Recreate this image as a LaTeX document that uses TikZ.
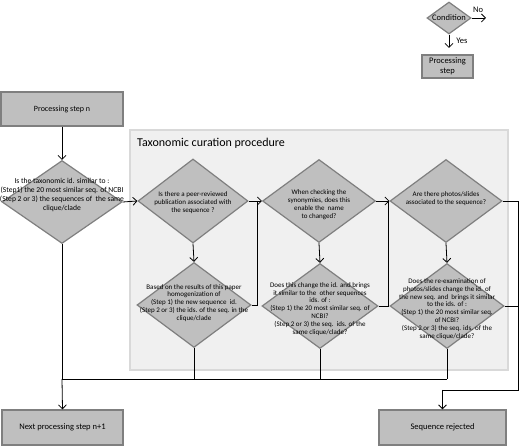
\documentclass[tikz,border=0pt]{standalone}
\usepackage{fontspec}
\setmainfont{Carlito}
\usetikzlibrary{shapes.geometric,arrows.meta}
\definecolor{fgray}{HTML}{BFBFBF}
\definecolor{dgray}{HTML}{7F7F7F}
\definecolor{boxbg}{HTML}{F0F0F0}
\definecolor{boxln}{HTML}{D9D9D9}
\begin{document}
\begin{tikzpicture}[x=1pt,y=-1pt,
  dia/.style={diamond, draw=dgray, fill=fgray, line width=1.2pt, inner sep=0pt},
  procbox/.style={rectangle, draw=dgray, fill=fgray, line width=1.3pt, inner sep=0pt, font=\fontsize{8.5}{9.5}\selectfont, align=center},
  dtext/.style={align=center, inner sep=0pt, font=\fontsize{7}{7.9}\selectfont},
  lab/.style={inner sep=0pt, font=\fontsize{8.5}{9.5}\selectfont},
  conn/.style={line width=0.8pt, black},
  arr/.style={conn, -{Straight Barb[length=4pt,width=8pt]}}
]
\useasboundingbox (0,0) rectangle (520,446);
% curation area
\node[draw=boxln, fill=boxbg, line width=1.6pt, minimum width=378pt, minimum height=240pt, inner sep=0pt] (area) at (319,250) {};
\node[anchor=west, inner sep=0pt, font=\fontsize{12}{14}\selectfont] (title) at (137,143) {Taxonomic curation procedure};

% legend
\node[dia, minimum width=44pt, minimum height=32pt] (cond) at (449,18) {};
\node[lab, font=\fontsize{8.5}{9.5}\selectfont] (condt) at (449,18) {Condition};
\coordinate (noend) at (486,18);
\draw[arr] (cond.east) -- (noend);
\node[lab] (nolab) at (478,10) {No};
\node[procbox, minimum width=51pt, minimum height=23pt] (legbox) at (447.5,66.5) {Processing\\step};
\coordinate (yesend) at (449,48);
\draw[arr] (cond.south) -- (yesend);
\node[lab] (yeslab) at (462,41) {Yes};

% main boxes
\node[procbox, minimum width=122pt, minimum height=34pt, font=\fontsize{8}{9.5}\selectfont] (stepn) at (62,109) {Processing step n};
\node[procbox, minimum width=121pt, minimum height=35pt] (next) at (62.5,427.5) {Next processing step n+1};
\node[procbox, minimum width=127pt, minimum height=35pt] (rej) at (442.5,427.5) {Sequence rejected};

% diamonds
\node[dia, minimum width=120pt, minimum height=83pt] (d1) at (62,202) {};
\node[dtext, font=\fontsize{7.6}{9}\selectfont] (t1) at (62,195) {Is the taxonomic id. similar to :\\(Step1) the 20 most similar seq. of NCBI\\(Step 2 or 3) the sequences of\ \ the same\\clique/clade};

\node[dia, minimum width=110pt, minimum height=84pt] (d2) at (193,201) {};
\node[dtext] (t2) at (193,203) {Is there a peer-reviewed\\publication associated with\\the sequence ?};

\node[dia, minimum width=114pt, minimum height=85pt] (d2b) at (194,305) {};
\node[dtext] (t2b) at (194,303) {Based on the results of this paper\\homogenization of\\(Step 1) the new sequence\ \ id.\\(Step 2 or 3) the ids. of the seq. in the\\clique/clade};

\node[dia, minimum width=113pt, minimum height=83pt] (d3) at (319,201) {};
\node[dtext] (t3) at (319,205) {When checking the\\synonymies, does this\\enable the\ \ name\\to changed?};

\node[dia, minimum width=116pt, minimum height=85pt] (d3b) at (320,306) {};
\node[dtext] (t3b) at (320,309) {Does this change the id. and brings\\it similar to the\ \ other sequences\\ids. of :\\(Step 1) the 20 most similar seq. of\\NCBI?\\(Step 2 or 3) the seq.\ \ ids. of the\\same clique/clade?};

\node[dia, minimum width=112pt, minimum height=83pt] (d4) at (446,201) {};
\node[dtext] (t4) at (446,199) {Are there photos/slides\\associated to the sequence?};

\node[dia, minimum width=114pt, minimum height=85pt] (d4b) at (447,306) {};
\node[dtext] (t4b) at (447,309) {Does the re-examination of\\photos/slides change the id. of\\the new seq. and\ \ brings it similar\\to the ids. of :\\(Step 1) the 20 most similar seq.\\of NCBI?\\(Step 2 or 3) the seq. ids. of the\\same clique/clade?};

% junction coordinates
\coordinate (j2) at (257,201);
\coordinate (j3) at (388,201);
\coordinate (rx) at (518,201);
\coordinate (rbot) at (518,390);
\coordinate (rturn) at (442.5,390);
\coordinate (hb1) at (62,379);
\coordinate (hb4) at (447,379);

% connectors
\draw[arr] (stepn.south) -- (d1.north);
\draw[arr] (d1.east) -- (d2.west);
\draw[arr] (d2.south) -- (d2b.north);
\draw[arr] (d2.east) -- (d3.west);
\draw[conn] (d2b.east) -| (j2);
\draw[arr] (d3.south) -- (d3b.north);
\draw[arr] (d3.east) -- (d4.west);
\draw[conn] (d3b.east) -| (j3);
\draw[arr] (d4.south) -- (d4b.north);
\draw[conn] (d4.east) -- (rx) -- (rbot) -- (rturn);
\draw[arr] (rturn) -- (rej.north);
\draw[conn] (d4b.east) -- (d4b.east -| rx);
\draw[conn] (d1.south) -- (hb1);
\draw[arr] (hb1) -- (next.north);
\draw[conn] (hb1) -- (hb4);
\draw[conn] (d2b.south) -- (d2b.south |- hb1);
\draw[conn] (d3b.south) -- (d3b.south |- hb1);
\draw[conn] (d4b.south) -- (hb4);
\end{tikzpicture}
\end{document}
